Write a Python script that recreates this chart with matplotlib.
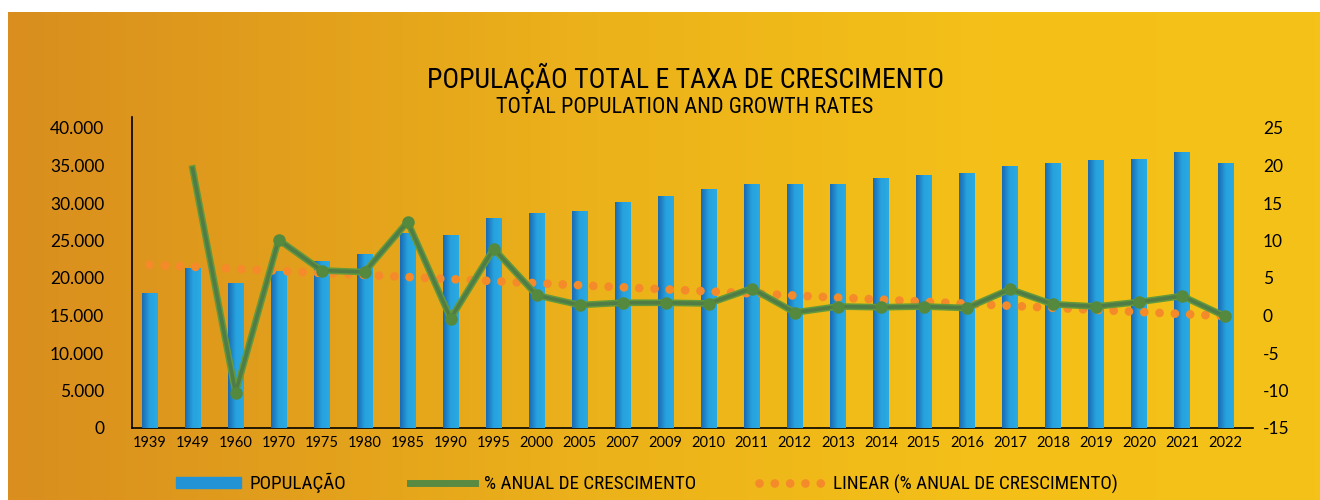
import numpy as np
import matplotlib
matplotlib.use("Agg")
import matplotlib.pyplot as plt
from matplotlib import font_manager
from matplotlib.colors import LinearSegmentedColormap
from matplotlib.lines import Line2D
from matplotlib.patches import Patch

# data
years = ["1939", "1949", "1960", "1970", "1975", "1980", "1985", "1990", "1995", "2000",
         "2005", "2007", "2009", "2010", "2011", "2012", "2013", "2014", "2015", "2016",
         "2017", "2018", "2019", "2020", "2021", "2022"]
population = [18000, 21400, 19300, 21000, 22300, 23200, 26000, 25700, 28000, 28700,
              28900, 30100, 30900, 31900, 32500, 32500, 32500, 33300, 33700, 34000,
              34900, 35300, 35700, 35900, 36800, 35300]
growth = [np.nan, 19.6, -10.3, 10.1, 6.0, 5.8, 12.5, -0.4, 8.9, 2.7,
          1.4, 1.7, 1.7, 1.6, 3.6, 0.4, 1.2, 1.1, 1.2, 1.0,
          3.5, 1.5, 1.2, 1.8, 2.6, -0.1]
left_ticks = [0, 5000, 10000, 15000, 20000, 25000, 30000, 35000, 40000]
right_ticks = [-15, -10, -5, 0, 5, 10, 15, 20, 25]

title = "POPULAÇÃO TOTAL E TAXA DE CRESCIMENTO"
subtitle = "TOTAL POPULATION AND GROWTH RATES"
legend_labels = ["POPULAÇÃO", "% ANUAL DE CRESCIMENTO", "LINEAR (% ANUAL DE CRESCIMENTO)"]

installed = {f.name for f in font_manager.fontManager.ttflist}
narrow = next((f for f in ["Liberation Sans Narrow", "DejaVu Sans Condensed", "Roboto Condensed"]
               if f in installed), "DejaVu Sans")
plain = "Lato" if "Lato" in installed else "DejaVu Sans"

fig = plt.figure(figsize=(13.2, 5.0), dpi=100)

# background gradient panel (white strip on top and left)
bg = fig.add_axes([8 / 1320, 0, 1 - 8 / 1320, 488 / 500])
bg_cmap = LinearSegmentedColormap.from_list(
    "bg", [(0, "#D98E1E"), (0.45, "#ECB21A"), (0.75, "#F4C018"), (1, "#F5C218")])
bg.imshow(np.linspace(0, 1, 256)[None, :], aspect="auto", cmap=bg_cmap, extent=[0, 1, 0, 1])
bg.set_axis_off()

ax = fig.add_axes([132 / 1320, 72 / 500, 1121 / 1320, 311 / 500])
ax.patch.set_alpha(0)
x = np.arange(len(years))
top_left = 40000 * 311 / 300

bars = ax.bar(x, population, width=0.35, color="#27A4DF", zorder=2)
bar_cmap = LinearSegmentedColormap.from_list("bar", ["#1A6AB3", "#27A2DE", "#2AAAE2"])
for b in bars:
    im = ax.imshow(np.linspace(0, 1, 64)[None, :], aspect="auto", cmap=bar_cmap,
                   extent=[b.get_x(), b.get_x() + b.get_width(), 0, b.get_height()], zorder=3)
    im.set_clip_path(b)
ax.set_xlim(-0.407, len(years) - 0.35)
ax.set_ylim(0, top_left)
ax.set_yticks(left_ticks)
ax.set_yticklabels([f"{v:,}".replace(",", ".") for v in left_ticks], fontsize=12.5, family=plain)
ax.set_xticks(x)
ax.set_xticklabels(years, fontsize=10.5, family=plain)
ax.tick_params(length=0, pad=6)
ax.tick_params(axis="y", pad=20)
for s in ["top", "right"]:
    ax.spines[s].set_visible(False)
ax.spines["left"].set_linewidth(1.2)
ax.spines["bottom"].set_linewidth(1.2)

ax2 = ax.twinx()
ax2.set_ylim(-15, -15 + 40 * 311 / 300)
ax2.set_yticks(right_ticks)
ax2.set_yticklabels([str(v) for v in right_ticks], fontsize=12.5, family=plain)
ax2.tick_params(length=0, pad=7)
for s in ax2.spines.values():
    s.set_visible(False)

g = np.array(growth)
ok = ~np.isnan(g)
coef = np.polyfit(x[ok], g[ok], 1)
trend = np.polyval(coef, x)
ax2.plot(x, trend, color="#F58A2A", lw=6.3, linestyle=(0, (0.001, 1.75)),
         dash_capstyle="round", zorder=4)
# two-tone green line
ax2.plot(x, g, color="#64993B", lw=4.8, solid_joinstyle="round", zorder=5)
ax2.plot(x, g, color="#507C47", lw=2.6, solid_joinstyle="round", zorder=5)
ax2.plot(x[2:], g[2:], "o", color="#55893D", ms=8, zorder=6)

fig.text(0.519, 0.843, title, ha="center", va="center", fontsize=20, family=narrow)
fig.text(0.519, 0.785, subtitle, ha="center", va="center", fontsize=16, family=narrow)

handles = [Patch(color="#2294D5"),
           Line2D([], [], color="#588A42", lw=5),
           Line2D([], [], color="#F58A2A", lw=6.3, linestyle=(0, (0.001, 1.75)),
                  dash_capstyle="round")]
fig.legend(handles, legend_labels, loc="center", bbox_to_anchor=(0.49, 0.033), ncol=3,
           frameon=False, prop={"family": narrow, "size": 13.8}, handlelength=3.4,
           handleheight=0.55, handletextpad=0.45, columnspacing=3.3)

fig.savefig("out.png", dpi=100)
